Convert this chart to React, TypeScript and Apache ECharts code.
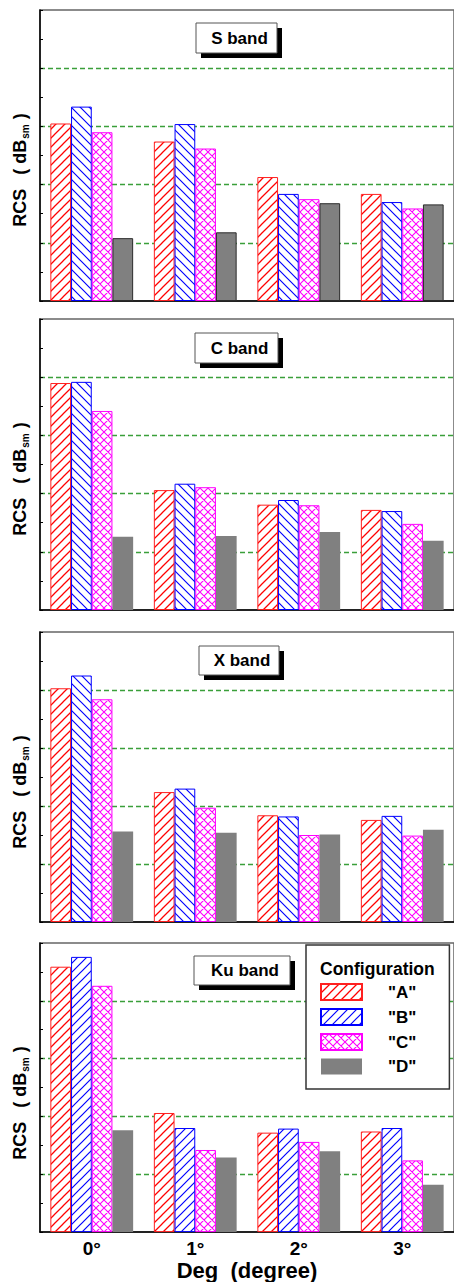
import React, { useEffect, useRef } from 'react';
import * as echarts from 'echarts';

// ---- data ----
const categories = ['0°', '1°', '2°', '3°'];
const configs = ['A', 'B', 'C', 'D'];
const bandNames = ['S band', 'C band', 'X band', 'Ku band'];

const sBandA = [3.05, 2.74, 2.13, 1.84];
const sBandB = [3.34, 3.04, 1.84, 1.7];
const sBandC = [2.9, 2.62, 1.75, 1.59];
const sBandD = [1.08, 1.18, 1.68, 1.66];

const cBandA = [3.9, 2.06, 1.81, 1.72];
const cBandB = [3.92, 2.17, 1.89, 1.7];
const cBandC = [3.42, 2.11, 1.8, 1.48];
const cBandD = [1.26, 1.27, 1.34, 1.19];

const xBandA = [4.03, 2.24, 1.84, 1.76];
const xBandB = [4.25, 2.3, 1.82, 1.83];
const xBandC = [3.84, 1.97, 1.5, 1.49];
const xBandD = [1.56, 1.54, 1.51, 1.59];

const kuBandA = [4.59, 2.06, 1.72, 1.74];
const kuBandB = [4.76, 1.8, 1.79, 1.8];
const kuBandC = [4.26, 1.42, 1.56, 1.24];
const kuBandD = [1.76, 1.29, 1.4, 0.82];

const bandData = [
  [sBandA, sBandB, sBandC, sBandD],
  [cBandA, cBandB, cBandC, cBandD],
  [xBandA, xBandB, xBandC, xBandD],
  [kuBandA, kuBandB, kuBandC, kuBandD],
];

// ---- layout ----
const gridTops = [10, 319, 632, 943];
const gridHeights = [291, 291, 290, 290];
const bandBoxes = [
  [196, 23, 81, 30],
  [195, 333, 83, 30],
  [199, 646, 80, 29],
  [194, 956, 96, 29],
];
const FONT = "'Liberation Sans', Arial, sans-serif";
const NB = '\u00A0';

function makePattern(color: string, dir: 'fwd' | 'back' | 'cross', size: number, width: number) {
  const s = size;
  let d = '';
  if (dir === 'fwd' || dir === 'cross') {
    d += `M-1 ${s + 1} L${s + 1} -1 M-1 1 L1 -1 M${s - 1} ${s + 1} L${s + 1} ${s - 1} `;
  }
  if (dir === 'back' || dir === 'cross') {
    d += `M-1 -1 L${s + 1} ${s + 1} M${s - 1} -1 L${s + 1} 1 M-1 ${s - 1} L1 ${s + 1} `;
  }
  const svg =
    `<svg xmlns="http://www.w3.org/2000/svg" width="${s}" height="${s}" viewBox="0 0 ${s} ${s}">` +
    `<rect x="0" y="0" width="${s}" height="${s}" fill="#ffffff"/>` +
    `<path d="${d}" stroke="${color}" stroke-width="${width}" fill="none"/></svg>`;
  return {
    image: 'data:image/svg+xml;charset=utf-8,' + encodeURIComponent(svg),
    repeat: 'repeat',
    imageWidth: s,
    imageHeight: s,
  } as any;
}

export default function App() {
  const ref = useRef<HTMLDivElement>(null);

  useEffect(() => {
    if (!ref.current) return;
    const chart = echarts.init(ref.current, null, { renderer: 'svg' });

    const redFwd = makePattern('#ff0000', 'fwd', 9, 1.25);
    const blueBack = makePattern('#0000ff', 'back', 9, 1.15);
    const blueFwd = makePattern('#0000ff', 'fwd', 9, 1.2);
    const magCross = makePattern('#ff00ff', 'cross', 8, 1.1);

    const styleFor = (p: number, k: number) => {
      if (k === 0) return { color: redFwd, borderColor: '#ff2020', borderWidth: 1 };
      if (k === 1) return { color: p === 3 ? blueFwd : blueBack, borderColor: '#0000ff', borderWidth: 1 };
      if (k === 2) return { color: magCross, borderColor: '#ff00ff', borderWidth: 1 };
      return p === 0
        ? { color: '#808080', borderColor: '#2a2a2a', borderWidth: 1 }
        : { color: '#808080', borderWidth: 0 };
    };

    const series: any[] = [];
    [3, 0, 1, 2].forEach((p) => {
      configs.forEach((cfg, k) => {
        series.push({
          type: 'bar',
          name: cfg,
          xAxisIndex: p,
          yAxisIndex: p,
          data: bandData[p][k],
          barGap: '0%',
          barCategoryGap: '20%',
          itemStyle: styleFor(p, k),
          emphasis: { disabled: true },
          z: 2,
        });
      });
    });

    const grids = gridTops.map((t, i) => ({
      left: 40,
      top: t,
      width: 416,
      height: gridHeights[i],
      show: true,
      borderColor: '#666',
      borderWidth: 1.5,
      backgroundColor: 'transparent',
    }));

    const xAxes = gridTops.map((_, i) => ({
      type: 'category',
      gridIndex: i,
      data: categories,
      axisLine: { show: true, lineStyle: { color: '#000', width: 1.5 } },
      axisTick: { show: false },
      axisLabel: {
        show: i === 3,
        fontSize: 19,
        fontWeight: 'bold',
        color: '#000',
        fontFamily: FONT,
        margin: 7,
      },
      splitLine: { show: false },
      name: i === 3 ? `Deg${NB}${NB}(degree)` : '',
      nameLocation: 'middle',
      nameGap: 25,
      nameTextStyle: { fontSize: 22, fontWeight: 'bold', color: '#000', fontFamily: FONT },
    }));

    const yAxes = gridTops.map((_, i) => ({
      type: 'value',
      gridIndex: i,
      min: 0,
      max: 5,
      interval: 1,
      axisLine: { show: true, lineStyle: { color: '#000', width: 1.5 } },
      axisTick: { show: true, inside: true, length: 3, lineStyle: { color: '#000' } },
      minorTick: { show: true, splitNumber: 2, length: 3, lineStyle: { color: '#000' } },
      axisLabel: { show: false },
      splitLine: {
        show: true,
        showMinLine: false,
        showMaxLine: false,
        lineStyle: { color: '#3a9f3a', type: [5, 3], width: 1.3 },
      },
    }));

    const graphics: any[] = [];
    gridTops.forEach((t) => {
      graphics.push({
        type: 'text',
        x: 20,
        y: t + 160,
        rotation: Math.PI / 2,
        z: 50,
        style: {
          text: `{a|RCS\u2002${NB}(${NB}dB}{b|sm}{a|${NB})}`,
          align: 'center',
          verticalAlign: 'middle',
          textAlign: 'center',
          textVerticalAlign: 'middle',
          rich: {
            a: { fontSize: 18, fontWeight: 'bold', fontFamily: FONT, lineHeight: 20, fill: '#000', color: '#000' },
            b: {
              fontSize: 10,
              fontWeight: 'bold',
              fontFamily: FONT,
              lineHeight: 10,
              verticalAlign: 'bottom',
              padding: [21, 0, 0, 1],
              fill: '#000',
              color: '#000',
            },
          },
        },
      });
    });
    bandBoxes.forEach(([bx, by, w, h], i) => {
      graphics.push({
        type: 'group',
        z: 50,
        children: [
          { type: 'rect', z: 50, shape: { x: bx + 5, y: by + 5, width: w, height: h }, style: { fill: '#000' } },
          {
            type: 'rect',
            z: 51,
            shape: { x: bx, y: by, width: w, height: h },
            style: { fill: '#fff', stroke: '#555', lineWidth: 1 },
          },
          {
            type: 'text',
            z: 52,
            x: bx + w / 2 + 3,
            y: by + h / 2,
            style: {
              text: bandNames[i],
              fontSize: 17,
              fontWeight: 'bold',
              fontFamily: FONT,
              fill: '#000',
              align: 'center',
              verticalAlign: 'middle',
              textAlign: 'center',
              textVerticalAlign: 'middle',
            },
          },
        ],
      });
    });
    graphics.push({
      type: 'text',
      z: 100,
      x: 320,
      y: 969,
      style: {
        text: 'Configuration',
        fontSize: 17.5,
        fontWeight: 'bold',
        fontFamily: FONT,
        fill: '#000',
        align: 'left',
        verticalAlign: 'middle',
        textAlign: 'left',
        textVerticalAlign: 'middle',
      },
    });

    chart.setOption({
      animation: false,
      backgroundColor: '#fff',
      grid: grids,
      xAxis: xAxes,
      yAxis: yAxes,
      legend: {
        data: configs,
        orient: 'vertical',
        left: 306,
        top: 945,
        padding: [38, 33, 14, 14],
        itemWidth: 41,
        itemHeight: 16,
        itemGap: 7,
        icon: 'rect',
        backgroundColor: '#fff',
        borderColor: '#333',
        borderWidth: 1.5,
        selectedMode: false,
        z: 20,
        formatter: (n: string) => `"${n}"`,
        textStyle: {
          fontSize: 17,
          fontWeight: 'bold',
          color: '#000',
          fontFamily: FONT,
          padding: [0, 0, 0, 21],
        },
      },
      graphic: graphics,
      series,
    });

    return () => chart.dispose();
  }, []);

  return (
    <div
      ref={ref}
      style={{ position: 'absolute', left: 0, top: 0, width: 454, height: 1282, background: '#fff' }}
    />
  );
}
